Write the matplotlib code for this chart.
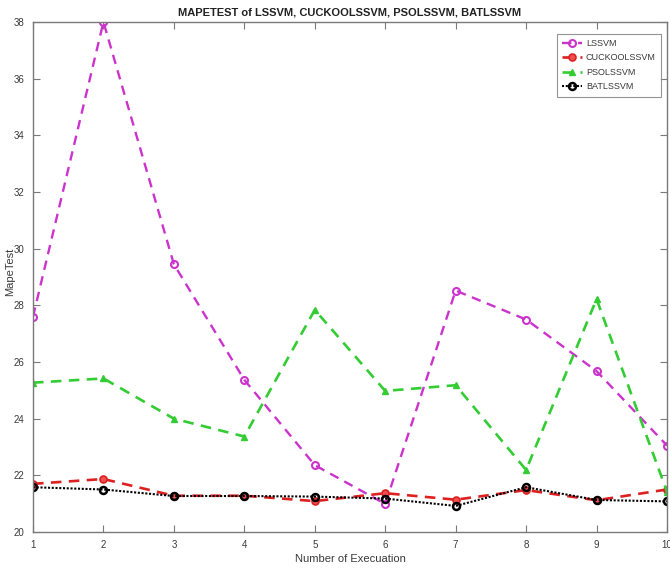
import matplotlib
matplotlib.use("Agg")
import matplotlib.pyplot as plt
from matplotlib import font_manager

# ── Data ──────────────────────────────────────────────────────────────────────
executions = [1, 2, 3, 4, 5, 6, 7, 8, 9, 10]
lssvm      = [27.60, 38.00, 29.45, 25.37, 22.36, 20.99, 28.52, 27.50, 25.68, 23.05]
cuckoo     = [21.70, 21.87, 21.28, 21.28, 21.09, 21.37, 21.14, 21.48, 21.12, 21.50]
pso        = [25.27, 25.42, 24.00, 23.37, 27.84, 24.98, 25.18, 22.19, 28.22, 21.42]
bat        = [21.58, 21.50, 21.27, 21.27, 21.25, 21.18, 20.92, 21.58, 21.13, 21.08]
y_ticks    = [20, 22, 24, 26, 28, 30, 32, 34, 36, 38]

# ── Font: prefer a narrow sans like the MATLAB export ─────────────────────────
installed = {f.name for f in font_manager.fontManager.ttflist}
family = ["Liberation Sans Narrow", "DejaVu Sans"] if "Liberation Sans Narrow" in installed \
    else ["Liberation Sans", "DejaVu Sans"]
plt.rcParams["font.family"] = family

GREY = "#7a7a7a"
TXT = "#3a3a3a"

fig = plt.figure(figsize=(6.7, 5.73), dpi=100)
ax = fig.add_axes([33 / 670, 41 / 573, 634 / 670, 510 / 573])

ax.plot(executions, lssvm, linestyle=(0, (4, 2.8)), color="#cc33cc", lw=1.7,
        marker="o", ms=5, mfc="none", mec="#cc33cc", mew=1.5, label="LSSVM")
ax.plot(executions, cuckoo, linestyle=(0, (4, 2.8)), color="#dd2020", lw=1.9,
        marker="o", ms=5, mfc="#ee5050", mec="#dd2020", mew=1.2, label="CUCKOOLSSVM")
ax.plot(executions, pso, linestyle=(0, (4, 2.8)), color="#33cc33", lw=1.9,
        marker="^", ms=5, mfc="#33cc33", mec="#33cc33", label="PSOLSSVM")
ax.plot(executions, bat, linestyle=(0, (1, 0.8)), color="black", lw=1.5,
        marker="o", ms=5, mfc="none", mec="black", mew=1.8, label="BATLSSVM")

ax.set_xlim(1, 10)
ax.set_ylim(20, 38)
ax.set_xticks(executions)
ax.set_yticks(y_ticks)

ax.tick_params(direction="in", length=5, width=0.8, colors=GREY, labelcolor=TXT,
               labelsize=7, top=True, right=True, pad=6)
for s in ax.spines.values():
    s.set_color(GREY)
    s.set_linewidth(1.0)

ax.set_title("MAPETEST of LSSVM, CUCKOOLSSVM, PSOLSSVM, BATLSSVM",
             fontsize=8, fontweight="bold", color="#222222", pad=5)
ax.set_xlabel("Number of Execuation", fontsize=8, color=TXT, labelpad=3)
ax.set_ylabel("MapeTest", fontsize=8, color=TXT)
ax.yaxis.set_label_coords(-0.028, 0.51)

leg = ax.legend(loc="upper right", fontsize=6.5, frameon=True, fancybox=False,
                edgecolor=GREY, borderpad=0.6, labelspacing=0.6,
                handlelength=2.2, handletextpad=0.4, bbox_to_anchor=(0.998, 0.986))
leg.get_frame().set_linewidth(0.8)
for t in leg.get_texts():
    t.set_color(TXT)

fig.savefig("out.png", dpi=100)
